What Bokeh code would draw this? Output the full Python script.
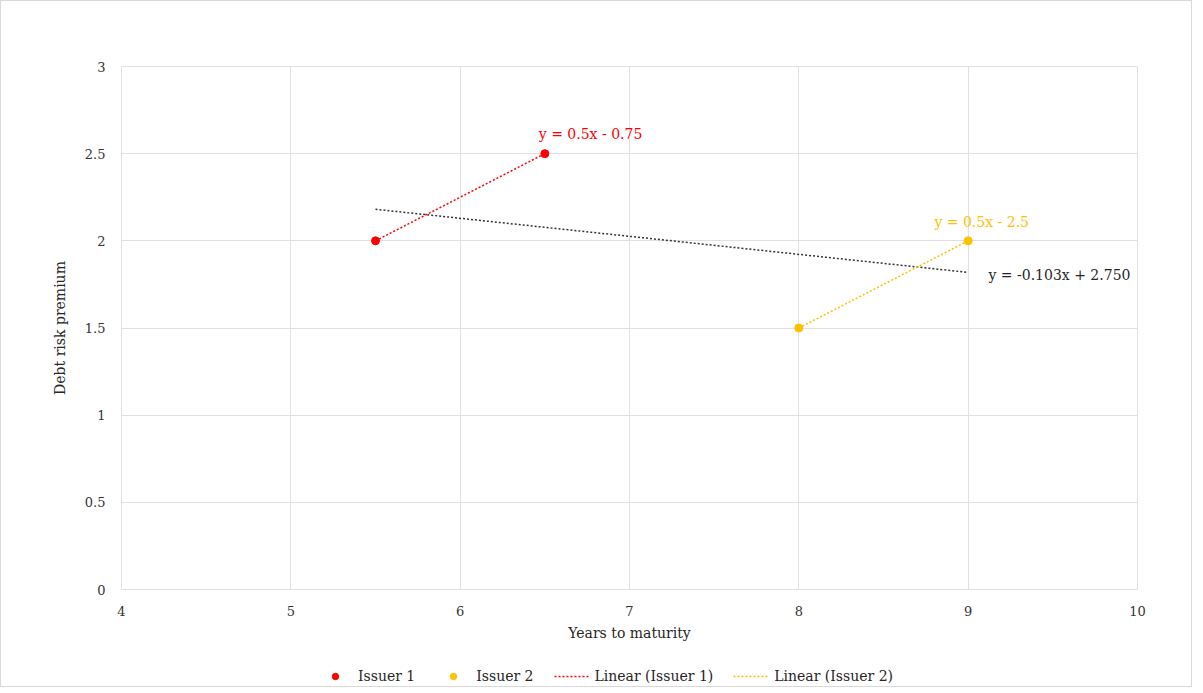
import numpy as np
from bokeh.plotting import figure
from bokeh.layouts import column
from bokeh.models import Legend, LegendItem, Label
from bokeh.embed import file_html
from bokeh.resources import INLINE

# data
issuer1_years = [5.5, 6.5]
issuer1_premium = [2.0, 2.5]
issuer2_years = [8.0, 9.0]
issuer2_premium = [1.5, 2.0]

x_ticks = [4, 5, 6, 7, 8, 9, 10]
y_ticks = [0, 0.5, 1, 1.5, 2, 2.5, 3]
y_tick_labels = ["0", "0.5", "1", "1.5", "2", "2.5", "3"]
legend_labels = ["Issuer 1", "Issuer 2", "Linear (Issuer 1)", "Linear (Issuer 2)"]

RED = "#FF0000"
YELLOW = "#FFC000"
GRID = "#e0e0e0"
TEXT = "#333333"
FONT = "DejaVu Serif"

# linear trendlines (same as Excel's)
m1, b1 = np.polyfit(issuer1_years, issuer1_premium, 1)
m2, b2 = np.polyfit(issuer2_years, issuer2_premium, 1)
all_x = issuer1_years + issuer2_years
all_y = issuer1_premium + issuer2_premium
ma, ba = np.polyfit(all_x, all_y, 1)

p = figure(width=1190, height=645, x_range=(4, 10), y_range=(0, 3),
           output_backend="svg", toolbar_location=None,
           x_axis_label="Years to maturity", y_axis_label="Debt risk premium",
           min_border_left=120, min_border_right=54, min_border_top=65,
           min_border_bottom=57)
p.outline_line_color = GRID
p.xgrid.grid_line_color = GRID
p.ygrid.grid_line_color = GRID
p.xaxis.ticker = x_ticks
p.yaxis.ticker = y_ticks
p.yaxis.major_label_overrides = {t: l for t, l in zip(y_ticks, y_tick_labels)}

for ax in (p.xaxis[0], p.yaxis[0]):
    ax.axis_line_color = GRID
    ax.major_tick_line_color = None
    ax.minor_tick_line_color = None
    ax.major_label_text_font = FONT
    ax.major_label_text_font_size = "13px"
    ax.major_label_text_color = TEXT
    ax.axis_label_text_font = FONT
    ax.axis_label_text_font_size = "14px"
    ax.axis_label_text_font_style = "normal"
    ax.axis_label_text_color = "#262626"
    ax.major_label_standoff = 10
p.xaxis.axis_label_standoff = 6
p.yaxis.axis_label_standoff = 14

# overall trendline, no legend entry
xa = np.array([min(all_x), max(all_x)])
p.line(xa, ma * xa + ba, line_color="#333333", line_width=1.5, line_dash="2 2")

x1 = np.array(issuer1_years)
x2 = np.array(issuer2_years)
p.line(x1, m1 * x1 + b1, line_color=RED, line_width=1.5, line_dash="2 2")
p.line(x2, m2 * x2 + b2, line_color=YELLOW, line_width=1.5, line_dash="2 2")
p.scatter(issuer1_years, issuer1_premium, size=8, color=RED)
p.scatter(issuer2_years, issuer2_premium, size=8, color=YELLOW)

def eq(m, b, fmt):
    sign = "-" if b < 0 else "+"
    return f"y = {m:{fmt}}x {sign} {abs(b):{fmt}}"

p.add_layout(Label(x=issuer1_years[-1] + 0.27, y=issuer1_premium[-1] + 0.115,
                   text=eq(m1, b1, "g"), text_align="center",
                   text_baseline="middle", text_font=FONT,
                   text_font_size="14px", text_color=RED))
p.add_layout(Label(x=issuer2_years[-1] + 0.08, y=issuer2_premium[-1] + 0.107,
                   text=eq(m2, b2, "g"), text_align="center",
                   text_baseline="middle", text_font=FONT,
                   text_font_size="14px", text_color=YELLOW))
p.add_layout(Label(x=xa[-1] + 0.12, y=ma * xa[-1] + ba - 0.015,
                   text=eq(ma, ba, ".3f"), text_align="left",
                   text_baseline="middle", text_font=FONT,
                   text_font_size="14px", text_color="#262626"))

# legend strip under the chart: same series drawn into a small figure whose
# ranges keep them out of view, so only the legend samples show
leg = figure(width=1190, height=40, x_range=(0, 1), y_range=(0, 1),
             output_backend="svg", toolbar_location=None,
             x_axis_type=None, y_axis_type=None, min_border=0)
leg.outline_line_color = None
leg.grid.visible = False
r1 = leg.scatter(issuer1_years, issuer1_premium, size=8, color=RED)
r2 = leg.scatter(issuer2_years, issuer2_premium, size=8, color=YELLOW)
r3 = leg.line(x1, m1 * x1 + b1, line_color=RED, line_width=1.5, line_dash="2 2")
r4 = leg.line(x2, m2 * x2 + b2, line_color=YELLOW, line_width=1.5, line_dash="2 2")

legend = Legend(items=[LegendItem(label=lab, renderers=[r])
                       for lab, r in zip(legend_labels, [r1, r2, r3, r4])],
                orientation="horizontal", location=(196, 2))
legend.border_line_color = None
legend.label_text_font = FONT
legend.label_text_font_size = "14px"
legend.label_text_color = "#262626"
legend.glyph_width = 36
legend.glyph_height = 16
legend.spacing = 20
legend.margin = 0
legend.padding = 4
legend.label_standoff = 5
legend.background_fill_alpha = 0
leg.add_layout(legend, "center")

layout = column(p, leg, spacing=0, styles={"border": "1px solid #d9d9d9"})

open("out.html", "w").write(file_html(layout, INLINE))
